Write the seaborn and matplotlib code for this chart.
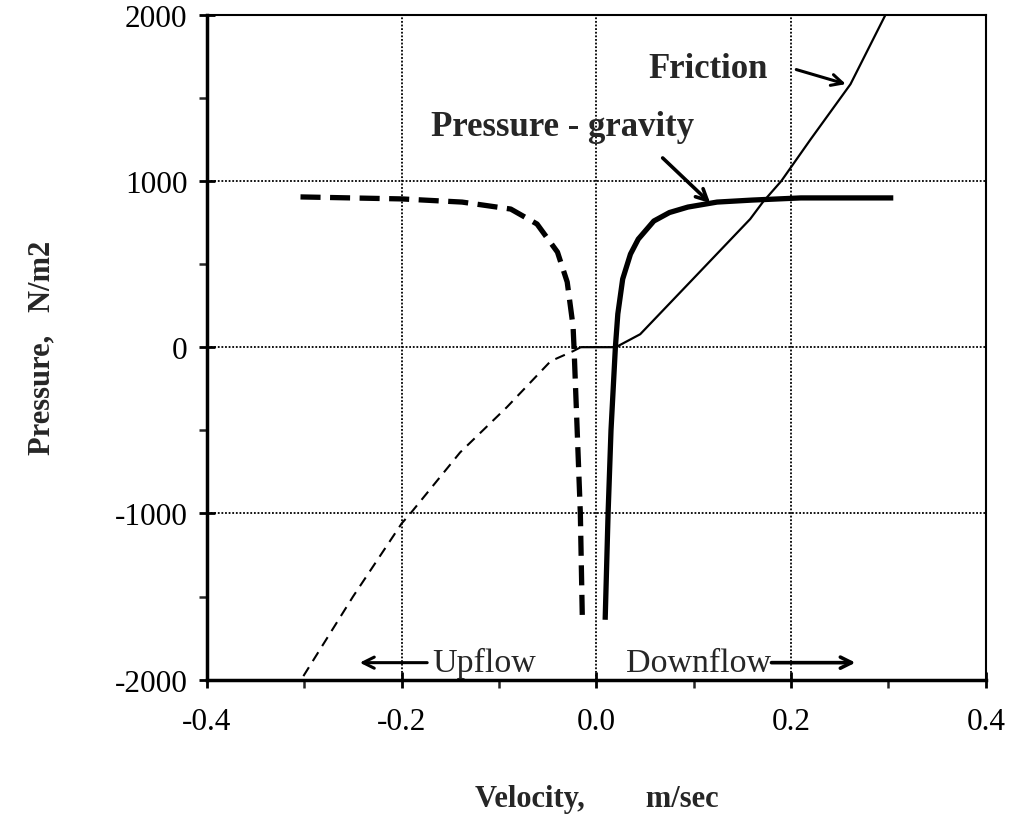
import numpy as np
import pandas as pd
import matplotlib
matplotlib.use("Agg")
import matplotlib.pyplot as plt
import seaborn as sns
from matplotlib.ticker import MultipleLocator

# Data (velocity m/sec, pressure N/m2)
friction_down_v = [-0.016, 0.020, 0.045, 0.10, 0.158, 0.171, 0.19, 0.22, 0.261, 0.297]
friction_down_p = [0, 0, 78, 415, 771, 873, 1000, 1250, 1582, 2000]

friction_up_v = [-0.016, -0.024, -0.047, -0.092, -0.14, -0.191, -0.20, -0.25, -0.302]
friction_up_p = [0, -24, -84, -361, -633, -1000, -1060, -1500, -1988]

pg_down_v = [0.009, 0.012, 0.015, 0.0195, 0.022, 0.027, 0.035, 0.043, 0.059, 0.075, 0.094, 0.124, 0.16, 0.21, 0.305]
pg_down_p = [-1640, -1000, -500, 0, 200, 410, 560, 650, 759, 810, 843, 873, 885, 898, 898]

pg_up_v = [-0.304, -0.2, -0.138, -0.088, -0.061, -0.040, -0.030, -0.024, -0.023, -0.0165, -0.0145]
pg_up_p = [904, 892, 873, 831, 741, 572, 392, 127, 0, -1000, -1620]

x_ticks = [-0.4, -0.2, 0.0, 0.2, 0.4]
x_tick_labels = ["-0.4", "-0.2", "0.0", "0.2", "0.4"]
y_ticks = [-2000, -1000, 0, 1000, 2000]
y_tick_labels = ["-2000", "-1000", "0", "1000", "2000"]

sns.set_style("ticks")
plt.rcParams['font.family'] = ['Liberation Serif', 'DejaVu Serif']
plt.rcParams['axes.unicode_minus'] = False

fig = plt.figure(figsize=(10.10, 8.29), dpi=100)
ax = fig.add_axes([0.205, 0.179, 0.771, 0.802])

def draw(v, p, lw, dashes=None):
    df = pd.DataFrame({"v": v, "p": p})
    sns.lineplot(data=df, x="v", y="p", sort=False, estimator=None, ax=ax,
                 color="black", linewidth=lw)
    line = ax.lines[-1]
    if dashes is not None:
        line.set_dashes(dashes)
    line.set_solid_capstyle("butt")
    line.set_dash_capstyle("butt")
    line.set_solid_joinstyle("round")

draw(friction_down_v, friction_down_p, 1.6)
draw(friction_up_v, friction_up_p, 1.5, dashes=(5, 3.5))
draw(pg_down_v, pg_down_p, 3.8)
draw(pg_up_v, pg_up_p, 3.8, dashes=(3.8, 1.8))

ax.set_xlim(-0.4, 0.4)
ax.set_ylim(-2000, 2000)
ax.set_xticks(x_ticks)
ax.set_xticklabels(x_tick_labels)
ax.set_yticks(y_ticks)
ax.set_yticklabels(y_tick_labels)
ax.xaxis.set_minor_locator(MultipleLocator(0.1))
ax.yaxis.set_minor_locator(MultipleLocator(500))
ax.tick_params(which="major", direction="inout", length=12, width=2, labelsize=22.5, colors="black")
ax.tick_params(axis="x", which="major", pad=14)
ax.tick_params(axis="y", which="major", pad=8)
ax.tick_params(which="minor", direction="out", length=6, width=1.8)
ax.grid(True, which="major", linestyle=(0, (1, 1)), color="black", linewidth=1.3)
for s in ax.spines.values():
    s.set_linewidth(1.5)
    s.set_color("black")
ax.spines["left"].set_linewidth(2.5)
ax.spines["bottom"].set_linewidth(2.5)

ax.set_xlabel("Velocity,        m/sec", fontsize=22, fontweight="bold", labelpad=34)
ax.set_ylabel("Pressure,   N/m2", fontsize=22, fontweight="bold", labelpad=42)

# annotations
ax.text(0.115, 1675, "Friction", fontsize=25, fontweight="bold", ha="center", va="center")
ax.annotate("", xy=(0.259, 1578), xytext=(0.2026, 1675),
            arrowprops=dict(arrowstyle="->,head_length=0.8,head_width=0.4", lw=2.2, color="black"))
ax.text(-0.035, 1330, "Pressure - gravity", fontsize=25, fontweight="bold", ha="center", va="center")
ax.annotate("", xy=(0.119, 855), xytext=(0.066, 1150),
            arrowprops=dict(arrowstyle="->,head_length=0.8,head_width=0.4", lw=2.6, color="black"))
ax.text(-0.169, -1898, "Upflow", fontsize=24.5, ha="left", va="center")
ax.annotate("", xy=(-0.246, -1898), xytext=(-0.171, -1898),
            arrowprops=dict(arrowstyle="->,head_length=0.8,head_width=0.4", lw=2.2, color="black"))
ax.text(0.030, -1898, "Downflow", fontsize=24.5, ha="left", va="center")
ax.annotate("", xy=(0.269, -1898), xytext=(0.177, -1898),
            arrowprops=dict(arrowstyle="->,head_length=0.8,head_width=0.4", lw=2.6, color="black"))

fig.savefig("out.png", dpi=100)
